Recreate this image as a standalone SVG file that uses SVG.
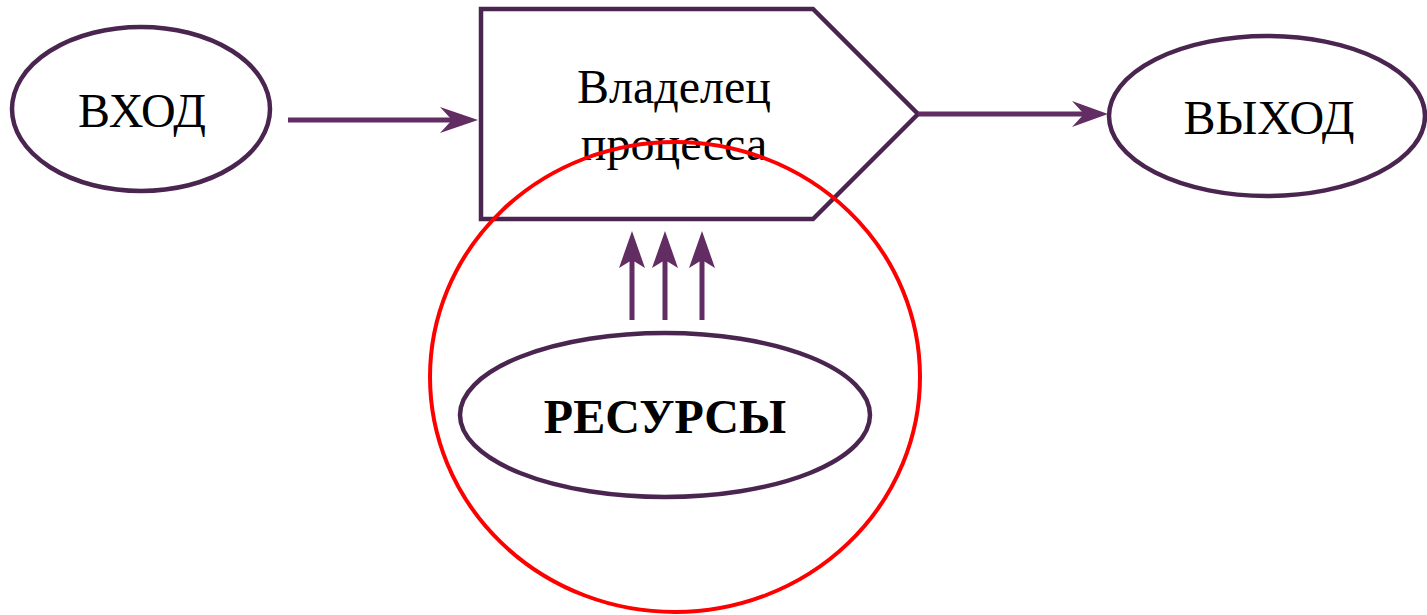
<svg xmlns="http://www.w3.org/2000/svg" width="1427" height="615" viewBox="0 0 1427 615">
<style>
.node{fill:#fff;stroke:#4a2550;stroke-width:4.5}
.t{font-family:"Liberation Serif","Times New Roman",serif;font-size:48px;fill:#000;text-anchor:middle}
.b{font-weight:bold}
.c{stroke:#622d63;stroke-width:5;fill:none}
.h{fill:#622d63}
</style>
<g id="input">
<ellipse class="node" cx="141" cy="109" rx="129" ry="82"/>
<text class="t" x="142" y="127">ВХОД</text>
</g>
<g id="output">
<ellipse class="node" cx="1267" cy="116" rx="158" ry="80"/>
<text class="t" x="1269" y="134">ВЫХОД</text>
</g>
<g id="owner">
<path class="node" d="M481,9 L813,9 L918,114 L813,219 L481,219 Z"/>
<text class="t" x="674" y="103">Владелец</text>
<text class="t" x="674" y="160">процесса</text>
</g>
<g id="resources">
<ellipse class="node" cx="665" cy="415" rx="205" ry="82"/>
<text class="t b" x="665" y="433">РЕСУРСЫ</text>
</g>
<g id="highlight">
<ellipse cx="675" cy="377" rx="245" ry="235" fill="none" stroke="#f00" stroke-width="4"/>
</g>
<g id="connectors">
<line class="c" x1="288" y1="120" x2="470" y2="120"/>
<path class="h" d="M478,120 L440,107 L452,120 L440,133 Z"/>
<line class="c" x1="918" y1="114" x2="1100" y2="114"/>
<path class="h" d="M1108,114 L1072,101 L1084,114 L1072,127 Z"/>
<line class="c" x1="632" y1="320" x2="632" y2="240"/>
<path class="h" d="M632,231 L619,268 L632,260 L645,268 Z"/>
<line class="c" x1="665" y1="320" x2="665" y2="240"/>
<path class="h" d="M665,231 L652,268 L665,260 L678,268 Z"/>
<line class="c" x1="702" y1="320" x2="702" y2="240"/>
<path class="h" d="M702,231 L689,268 L702,260 L715,268 Z"/>
</g>
</svg>
